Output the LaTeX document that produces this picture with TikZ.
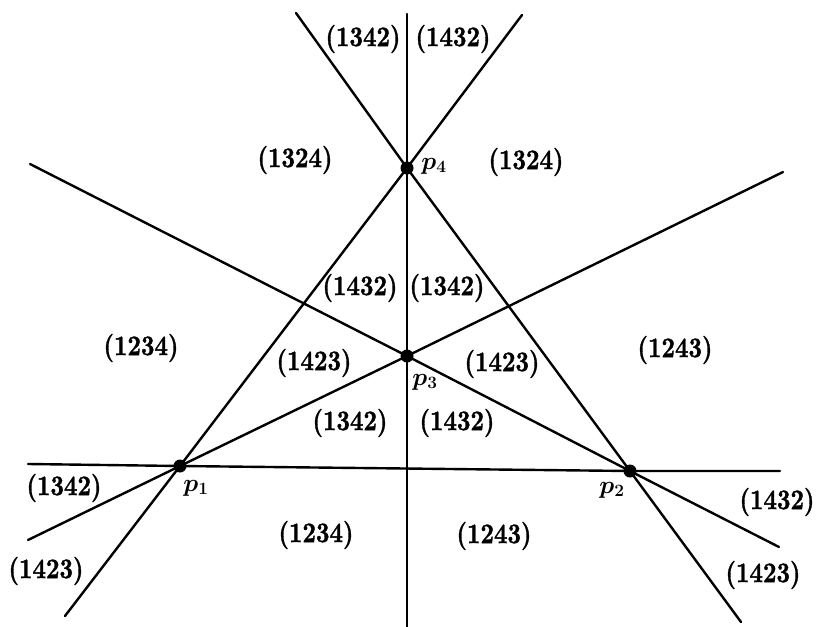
\documentclass[tikz,border=0pt]{standalone}
\usepackage{amsmath}
\usepackage{bm}
\usepackage{fontspec}
\newfontfamily\permfont{lmroman10-bold}[Extension=.otf, FakeBold=1.3]
\tikzset{
  ray/.style={line width=2.4pt, line cap=round},
  perm/.style={inner sep=0pt, font=\fontsize{23.5}{28}\selectfont\permfont},
  plab/.style={inner sep=0pt, font=\fontsize{27}{32}\selectfont},
  pt/.style={circle, fill=black, minimum size=13pt, inner sep=0pt}
}
\newcommand{\permtxt}[1]{\scalebox{1}[1.2]{#1}}
\begin{document}
\begin{tikzpicture}[x=1pt,y=-1pt]
\useasboundingbox (0,0) rectangle (820,627);
\fill[white] (0,0) rectangle (820,627);
% points
\node[pt] (p1) at (180,466) {};
\node[pt] (p2) at (630,471) {};
\node[pt] (p3) at (407,356) {};
\node[pt] (p4) at (407,168) {};
% line ends
\coordinate (h1) at (28,464);  \coordinate (h2) at (780,471);
\coordinate (v1) at (407,14);  \coordinate (v2) at (407,627);
\coordinate (a1) at (522,15);  \coordinate (a2) at (65,616);
\coordinate (b1) at (296,13);  \coordinate (b2) at (741,622);
\coordinate (c1) at (783,172); \coordinate (c2) at (28,540);
\coordinate (d1) at (30,164);  \coordinate (d2) at (779,547);
\draw[ray] (h1) -- (p1.center) -- (p2.center) -- (h2);
\draw[ray] (v1) -- (p4.center) -- (p3.center) -- (v2);
\draw[ray] (a1) -- (p4.center) -- (p1.center) -- (a2);
\draw[ray] (b1) -- (p4.center) -- (p2.center) -- (b2);
\draw[ray] (c1) -- (p3.center) -- (p1.center) -- (c2);
\draw[ray] (d1) -- (p3.center) -- (p2.center) -- (d2);
% point labels
\node[plab] (l4) at (434,166) {$\bm{p_4}$};
\node[plab] (l3) at (425,382) {$\bm{p_3}$};
\node[plab] (l1) at (196,488) {$\bm{p_1}$};
\node[plab] (l2) at (612,490) {$\bm{p_2}$};
% region labels
\node[perm] (r1) at (363,39) {\permtxt{(1342)}};
\node[perm] (r2) at (453,39) {\permtxt{(1432)}};
\node[perm] (r3) at (295,160) {\permtxt{(1324)}};
\node[perm] (r4) at (526,162) {\permtxt{(1324)}};
\node[perm] (r5) at (360,288) {\permtxt{(1432)}};
\node[perm] (r6) at (447,288) {\permtxt{(1342)}};
\node[perm] (r7) at (141,348) {\permtxt{(1234)}};
\node[perm] (r8) at (314,363) {\permtxt{(1423)}};
\node[perm] (r9) at (502,364) {\permtxt{(1423)}};
\node[perm] (r10) at (675,350) {\permtxt{(1243)}};
\node[perm] (r11) at (350,423) {\permtxt{(1342)}};
\node[perm] (r12) at (457,423) {\permtxt{(1432)}};
\node[perm] (r13) at (64,488) {\permtxt{(1342)}};
\node[perm] (r14) at (777,502) {\permtxt{(1432)}};
\node[perm] (r15) at (316,535) {\permtxt{(1234)}};
\node[perm] (r16) at (494,536) {\permtxt{(1243)}};
\node[perm] (r17) at (46,571) {\permtxt{(1423)}};
\node[perm] (r18) at (763,575) {\permtxt{(1423)}};
\end{tikzpicture}
\end{document}
